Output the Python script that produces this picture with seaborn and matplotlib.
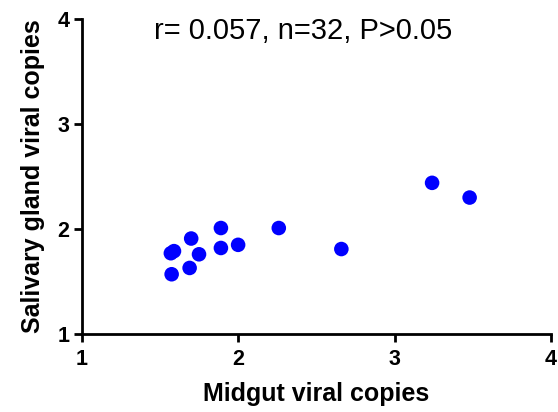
import matplotlib
matplotlib.use('Agg')
import matplotlib.pyplot as plt
import seaborn as sns
import pandas as pd

# valores
midgut = [1.57, 1.59, 1.575, 1.70, 1.75, 1.69, 1.89, 1.89, 2.00, 2.26, 2.66, 3.24, 3.48]
salivary = [1.77, 1.79, 1.57, 1.91, 1.76, 1.63, 2.01, 1.82, 1.85, 2.01, 1.81, 2.44, 2.30]
ticks = [1, 2, 3, 4]
stats_text = 'r= 0.057, n=32, P>0.05'

sns.set_style('ticks')
plt.rcParams['font.family'] = ['Liberation Sans', 'DejaVu Sans']

df = pd.DataFrame({'midgut': midgut, 'salivary': salivary})

fig = plt.figure(figsize=(5.58, 4.12), dpi=100)
ax = fig.add_axes([0.1464, 0.189, 0.841, 0.765])
sns.scatterplot(data=df, x='midgut', y='salivary', ax=ax, color='#0000ff',
                s=110, edgecolor='none', linewidth=0, clip_on=False)

ax.set_xlim(1, 4)
ax.set_ylim(1, 4)
ax.set_xticks(ticks)
ax.set_yticks(ticks)
ax.set_xticklabels([str(t) for t in ticks], fontsize=15.5, fontweight='bold', color='black')
ax.set_yticklabels([str(t) for t in ticks], fontsize=15.5, fontweight='bold', color='black')
ax.set_xlabel('Midgut viral copies', fontsize=18, fontweight='bold',
              labelpad=8, color='black')
ax.set_ylabel('Salivary gland viral copies', fontsize=18, fontweight='bold',
              labelpad=9, color='black')
ax.tick_params(width=2, length=6, color='black', pad=3)
ax.tick_params(axis='x', pad=5)
sns.despine(ax=ax)
for side in ['left', 'bottom']:
    ax.spines[side].set_linewidth(2)
    ax.spines[side].set_color('black')

ax.text(2.415, 3.89, stats_text, fontsize=21, ha='center', va='center', color='black')

fig.savefig('out.png', dpi=100)
